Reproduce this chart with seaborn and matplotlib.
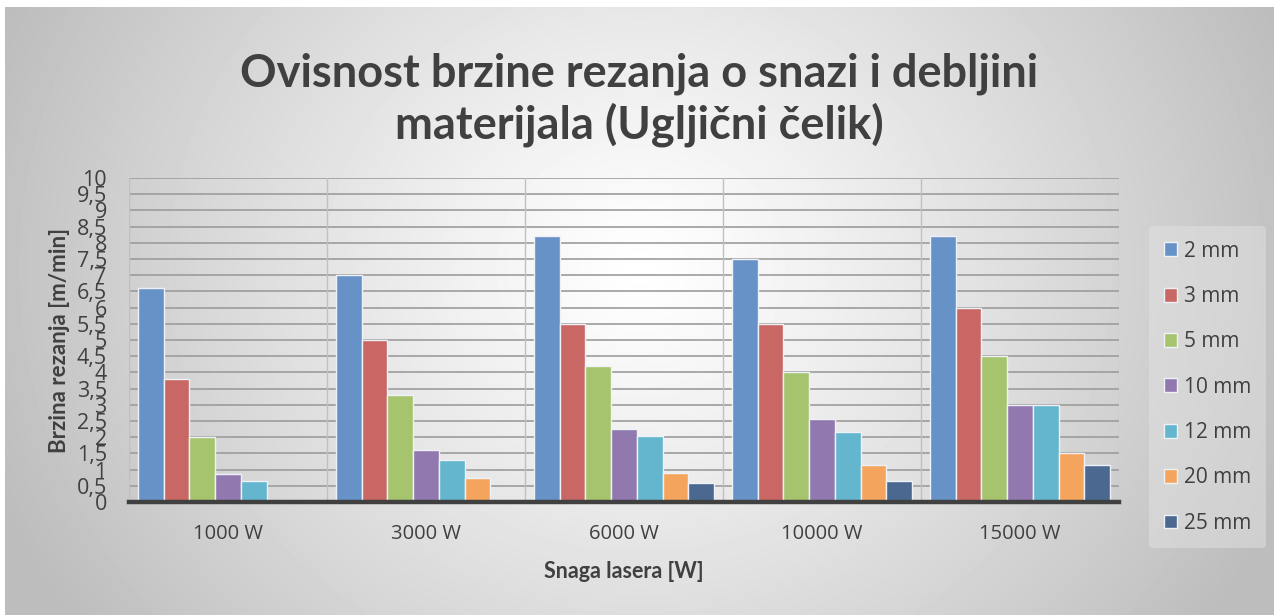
import numpy as np
import pandas as pd
import matplotlib
matplotlib.use("Agg")
import matplotlib.pyplot as plt
import seaborn as sns

# data
snaga = ["1000 W", "3000 W", "6000 W", "10000 W", "15000 W"]
debljine = ["2 mm", "3 mm", "5 mm", "10 mm", "12 mm", "20 mm", "25 mm"]
brzina_2mm = [6.6, 7.0, 8.2, 7.5, 8.2]
brzina_3mm = [3.8, 5.0, 5.5, 5.5, 6.0]
brzina_5mm = [2.0, 3.3, 4.2, 4.0, 4.5]
brzina_10mm = [0.85, 1.6, 2.25, 2.55, 3.0]
brzina_12mm = [0.65, 1.3, 2.05, 2.15, 3.0]
brzina_20mm = [np.nan, 0.75, 0.9, 1.15, 1.5]
brzina_25mm = [np.nan, np.nan, 0.6, 0.65, 1.15]
boje = ["#6792c8", "#c96764", "#a6c46e", "#9179af", "#63b6cd", "#f5a45e", "#4b6891"]

serije = [brzina_2mm, brzina_3mm, brzina_5mm, brzina_10mm, brzina_12mm, brzina_20mm, brzina_25mm]
rows = []
for d, vals in zip(debljine, serije):
    for s, v in zip(snaga, vals):
        rows.append({"snaga": s, "debljina": d, "brzina": v})
df = pd.DataFrame(rows)

sns.set_style("white")
plt.rcParams["font.family"] = ["Open Sans", "DejaVu Sans"]

fig = plt.figure(figsize=(12.74, 6.15), dpi=100)

# gray radial gradient background
bg = fig.add_axes([5 / 1274, 0, 1 - 5 / 1274, (615 - 7) / 615], zorder=-10)
yy, xx = np.mgrid[0:608, 0:1269]
r = np.sqrt(((xx - 635) / 690.0) ** 2 + ((yy - 260) / 620.0) ** 2)
shade = 1.0 - 0.26 * np.clip(r, 0, 1) ** 1.15
bg.imshow(shade, cmap="gray", vmin=0, vmax=1, aspect="auto", interpolation="bilinear")
bg.axis("off")

ax = fig.add_axes([129 / 1274, (615 - 502) / 615, 990 / 1274, 324 / 615])
ax.set_facecolor("none")

sns.barplot(data=df, x="snaga", y="brzina", hue="debljina", order=snaga,
            hue_order=debljine, palette=boje, width=0.91, gap=0,
            edgecolor="#eef2f7", linewidth=1, saturation=1, ax=ax, zorder=3)

ax.set_ylim(0, 10)
ax.set_xlim(-0.5, len(snaga) - 0.5)
yt = np.arange(0, 10.01, 0.5)
ax.set_yticks(yt)
ax.set_yticklabels([f"{v:g}".replace(".", ",") for v in yt])
ax.tick_params(axis="y", length=0, pad=16, labelsize=15.5, labelcolor="#404040")
ax.tick_params(axis="x", length=0, pad=16, labelsize=14.5, labelcolor="#404040")

for v in yt[1:]:
    ax.axhline(v, color="#9c9c9c", lw=1.2, zorder=1)
for xv in np.arange(-0.5, len(snaga), 1.0):
    ax.axvline(xv, color="#c0c0c0", lw=1, zorder=1)

for sp in ["top", "right", "left"]:
    ax.spines[sp].set_visible(False)
ax.spines["bottom"].set_color("#404040")
ax.spines["bottom"].set_linewidth(3.2)
ax.spines["bottom"].set_zorder(5)

ax.set_xlabel("Snaga lasera [W]", fontsize=15.5, fontweight="bold", color="#404040",
              family=["Lato", "DejaVu Sans"], labelpad=12)
ax.set_ylabel("Brzina rezanja [m/min]", fontsize=16, fontweight="bold", color="#404040",
              family=["Lato", "DejaVu Sans"], labelpad=5)

fig.text(0.502, 0.838, "Ovisnost brzine rezanja o snazi i debljini\nmaterijala (Ugljični čelik)",
         ha="center", va="center", fontsize=32.5, fontweight="bold", color="#404040",
         family=["Lato", "DejaVu Sans"], linespacing=1.2)

leg = ax.legend(loc="upper left", bbox_to_anchor=(1149 / 1274, (615 - 226) / 615),
                bbox_transform=fig.transFigure, frameon=True, fontsize=15,
                labelspacing=1.17, handlelength=0.65, handleheight=0.65,
                handletextpad=0.35, borderpad=0.7, borderaxespad=0)
leg.get_frame().set_facecolor("#e2e2e2")
leg.get_frame().set_edgecolor("none")
leg.get_frame().set_alpha(0.5)
for t in leg.get_texts():
    t.set_color("#404040")

fig.savefig("out.png", dpi=100)
